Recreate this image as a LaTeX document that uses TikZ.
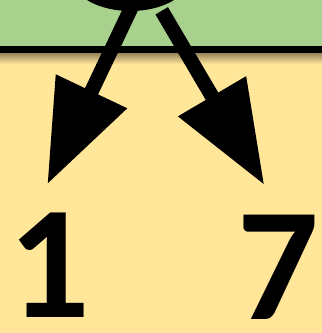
\documentclass[tikz,border=0pt]{standalone}
\usepackage{fontspec}
\setmainfont{Carlito}
\usetikzlibrary{arrows.meta,shapes.geometric}
\definecolor{bandgreen}{HTML}{A9D18E}
\definecolor{paleyellow}{HTML}{FFE699}
\definecolor{shadowbrown}{RGB}{150,132,92}
\begin{document}
\begin{tikzpicture}[x=1pt,y=-1pt,
  arr/.style={line width=14.5pt,-{Triangle[length=103pt,width=75pt]}},
  digit/.style={font=\bfseries\fontsize{161}{161}\selectfont,inner sep=0pt,anchor=base},
  blob/.style={ellipse,fill=black,minimum width=116.8pt,minimum height=66pt,inner sep=0pt}]
\useasboundingbox (0,0) rectangle (322,333);
\fill[paleyellow] (0,0) rectangle (322,333);
\fill[bandgreen] (0,0) rectangle (322,46);
\shade[top color=shadowbrown,bottom color=paleyellow] (0,53) rectangle (322,64);
\fill[black] (0,46) rectangle (322,53);
\coordinate (sL) at (131.8,6.6);
\coordinate (tL) at (47.3,184.3);
\coordinate (sR) at (161.7,10.8);
\coordinate (tR) at (264.3,185);
\draw[arr] (sL) -- (tL);
\draw[arr] (sR) -- (tR);
\node[blob] (top) at (130.5,-22) {};
\node[digit] (one) at (49.2,317.3) {1};
\node[digit] (seven) at (278.2,319) {7};
\end{tikzpicture}
\end{document}
